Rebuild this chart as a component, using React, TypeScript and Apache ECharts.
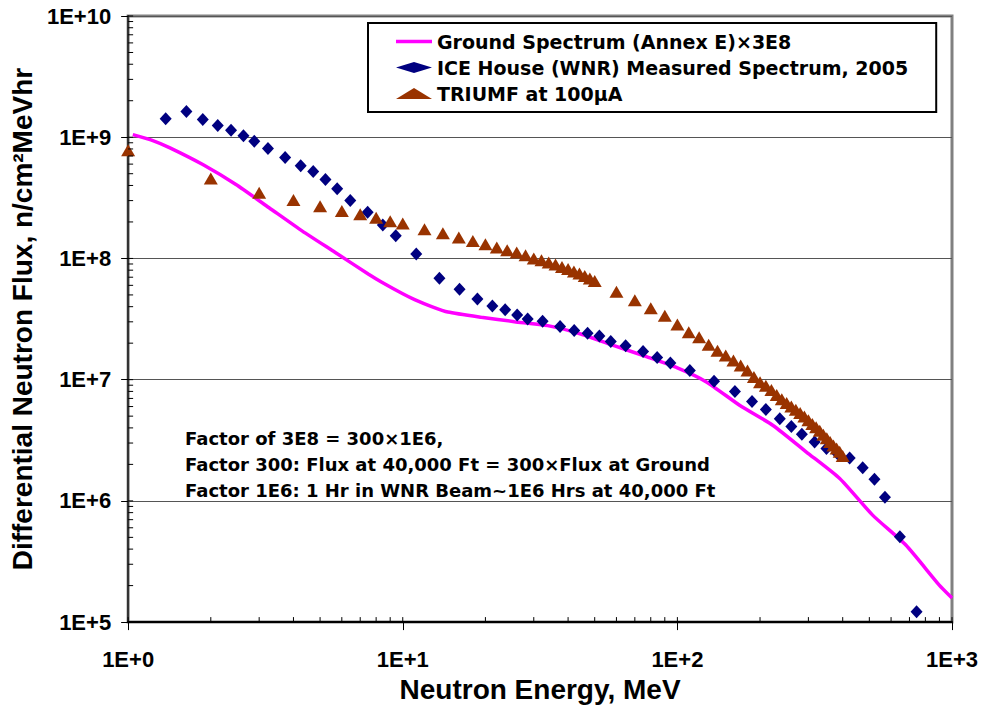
import React, { useEffect, useRef } from "react";
import * as echarts from "echarts";

// ---- Data ----
const groundEnergy = [1.04, 1.23, 1.42, 1.87, 2.47, 3.26, 4.31, 5.68, 7.51, 8.39, 10, 11.05, 12.74, 14.6, 19.3, 25.5, 33.7, 44.5, 58.8, 77.6, 100, 128, 169, 223, 295, 390, 514, 679, 897, 1000];
const groundFlux = [1.05e9, 9.38e8, 8.17e8, 5.95e8, 4.07e8, 2.62e8, 1.68e8, 1.12e8, 7.41e7, 6.37e7, 5.12e7, 4.58e7, 4.01e7, 3.61e7, 3.27e7, 3.01e7, 2.79e7, 2.38e7, 1.91e7, 1.54e7, 1.25e7, 9.54e6, 6.12e6, 4.19e6, 2.53e6, 1.53e6, 7.63e5, 4.32e5, 2.03e5, 1.58e5];

const iceEnergy = [1.37, 1.63, 1.87, 2.12, 2.37, 2.63, 2.88, 3.23, 3.73, 4.25, 4.72, 5.23, 5.77, 6.44, 7.45, 8.46, 9.43, 11.2, 13.6, 16.1, 18.7, 21.2, 23.6, 26.1, 28.5, 32.3, 37.4, 42.1, 47.1, 52.0, 57.2, 64.8, 75.0, 84.4, 94.3, 111, 136, 162, 187, 210, 236, 260, 284, 316, 349, 383, 424, 473, 522, 570, 646, 743];
const iceFlux = [1.42e9, 1.63e9, 1.4e9, 1.25e9, 1.14e9, 1.03e9, 9.25e8, 8.06e8, 6.8e8, 5.81e8, 5.21e8, 4.48e8, 3.76e8, 3.01e8, 2.41e8, 1.89e8, 1.54e8, 1.09e8, 6.87e7, 5.58e7, 4.62e7, 4.06e7, 3.77e7, 3.41e7, 3.16e7, 3.03e7, 2.75e7, 2.54e7, 2.41e7, 2.29e7, 2.06e7, 1.9e7, 1.71e7, 1.52e7, 1.37e7, 1.19e7, 9.72e6, 7.98e6, 6.61e6, 5.68e6, 4.76e6, 4.11e6, 3.54e6, 3.06e6, 2.7e6, 2.45e6, 2.26e6, 1.88e6, 1.51e6, 1.07e6, 5.07e5, 1.22e5];

const triumfEnergy = [1, 2, 3, 4, 5, 6, 7, 8, 9, 10, 12, 14, 16, 18, 20, 22, 24, 26, 28, 30, 32, 34, 36, 38, 40, 42, 44, 46, 48, 50, 60, 70, 80, 90, 100, 110, 120, 130, 140, 150, 160, 170, 180, 190, 200, 210, 220, 230, 240, 250, 260, 270, 280, 290, 300, 310, 320, 330, 340, 350, 360, 370, 380, 390, 400];
const triumfFlux = [7.8e8, 4.57e8, 3.48e8, 3.03e8, 2.7e8, 2.46e8, 2.31e8, 2.17e8, 2.03e8, 1.94e8, 1.74e8, 1.61e8, 1.49e8, 1.39e8, 1.31e8, 1.23e8, 1.17e8, 1.12e8, 1.06e8, 1.0e8, 9.67e7, 9.25e7, 8.91e7, 8.51e7, 8.2e7, 7.8e7, 7.52e7, 7.18e7, 6.84e7, 6.5e7, 5.3e7, 4.53e7, 3.89e7, 3.37e7, 2.85e7, 2.46e7, 2.24e7, 1.94e7, 1.73e7, 1.58e7, 1.44e7, 1.31e7, 1.19e7, 1.05e7, 9.53e6, 8.89e6, 8.2e6, 7.48e6, 6.9e6, 6.43e6, 6.01e6, 5.64e6, 5.3e6, 4.97e6, 4.62e6, 4.31e6, 4.04e6, 3.79e6, 3.52e6, 3.29e6, 3.06e6, 2.87e6, 2.7e6, 2.54e6, 2.34e6];

const seriesNames = [
  "Ground Spectrum (Annex E)×3E8",
  "ICE House (WNR) Measured Spectrum, 2005",
  "TRIUMF at 100µA",
];

const noteLines = [
  "Factor of 3E8 = 300×1E6,",
  "Factor 300: Flux at 40,000 Ft = 300×Flux at Ground",
  "Factor 1E6: 1 Hr in WNR Beam~1E6 Hrs at 40,000 Ft",
];

const xMajor = [1, 10, 100, 1000];
const yMajor = [1e5, 1e6, 1e7, 1e8, 1e9, 1e10];
const minorSteps = [2, 3, 4, 5, 6, 7, 8, 9];

const xTickData: number[][] = [];
xMajor.forEach((d) => xTickData.push([d, 1e5, 5]));
xMajor.slice(0, 3).forEach((d) => minorSteps.forEach((m) => xTickData.push([d * m, 1e5, 5])));
const yTickData: number[][] = [];
yMajor.forEach((d) => yTickData.push([1, d, 5]));
yMajor.slice(0, 5).forEach((d) => minorSteps.forEach((m) => yTickData.push([1, d * m, 5])));

const zip = (a: number[], b: number[]) => a.map((v, i) => [v, b[i]]);

const ARIAL = "'Liberation Sans', Arial, sans-serif";
const DEJAVU = "'DejaVu Sans', sans-serif";

export default function App() {
  const ref = useRef<HTMLDivElement>(null);
  useEffect(() => {
    if (!ref.current) return;
    const chart = echarts.init(ref.current, undefined, { renderer: "svg" });
    const labelFmt = (v: number) => "1E+" + Math.round(Math.log10(v));
    chart.setOption({
      animation: false,
      backgroundColor: "#fff",
      grid: {
        left: 125,
        top: 16,
        right: 29,
        bottom: 84,
        show: true,
        borderColor: "#808080",
        borderWidth: 3,
        backgroundColor: "#fff",
      },
      legend: {
        left: 368,
        top: 23,
        orient: "vertical",
        data: [
          { name: seriesNames[0], icon: "path://M0,0 L36,0 L36,3.5 L0,3.5 Z" },
          { name: seriesNames[1], icon: "diamond" },
          { name: seriesNames[2], icon: "triangle" },
        ],
        itemWidth: 36,
        itemHeight: 11,
        itemGap: 7,
        padding: [9, 28, 9, 28],
        borderColor: "#000",
        borderWidth: 2,
        backgroundColor: "#fff",
        textStyle: { fontFamily: DEJAVU, fontWeight: "bold", fontSize: 19, color: "#000" },
      },
      xAxis: {
        type: "log",
        logBase: 10,
        min: 1,
        max: 1000,
        name: "Neutron Energy, MeV",
        nameLocation: "middle",
        nameGap: 44,
        nameTextStyle: { fontFamily: ARIAL, fontWeight: "bold", fontSize: 28, color: "#000" },
        axisLine: { show: true, lineStyle: { color: "#000", width: 2 } },
        axisTick: { show: true, inside: false, length: 8, lineStyle: { color: "#000", width: 1 } },
        axisLabel: { formatter: labelFmt, margin: 26, fontFamily: ARIAL, fontWeight: "bold", fontSize: 22, color: "#000" },
        splitLine: { show: false },
        minorTick: { show: false },
      },
      yAxis: {
        type: "log",
        logBase: 10,
        min: 1e5,
        max: 1e10,
        splitNumber: 5,
        name: "Differential Neutron Flux, n/cm²MeVhr",
        nameLocation: "middle",
        nameGap: 85,
        nameTextStyle: { fontFamily: ARIAL, fontWeight: "bold", fontSize: 28, color: "#000" },
        axisLine: { show: true, lineStyle: { color: "#333", width: 2 } },
        axisTick: { show: true, inside: false, length: 7, lineStyle: { color: "#000", width: 1 } },
        axisLabel: { formatter: labelFmt, margin: 17, fontFamily: ARIAL, fontWeight: "bold", fontSize: 22, color: "#000" },
        splitLine: { show: true, lineStyle: { color: "#555", width: 1 } },
        minorTick: { show: false },
      },
      graphic: noteLines.map((t, i) => ({
        type: "text",
        x: 185,
        y: 438 + i * 26,
        z: 50,
        style: { text: t, fontFamily: DEJAVU, fontWeight: "bold", fontSize: 18, fill: "#000", verticalAlign: "middle" },
      })),
      series: [
        {
          name: seriesNames[0],
          type: "line",
          data: zip(groundEnergy, groundFlux),
          showSymbol: false,
          symbol: "none",
          smooth: 0.2,
          lineStyle: { color: "#FF00FF", width: 3.5 },
          itemStyle: { color: "#FF00FF" },
          z: 3,
        },
        {
          name: seriesNames[1],
          type: "scatter",
          data: zip(iceEnergy, iceFlux),
          symbol: "diamond",
          symbolSize: [12, 13],
          itemStyle: { color: "#000080", opacity: 1 },
          clip: false,
          z: 4,
        },
        {
          name: seriesNames[2],
          type: "scatter",
          data: zip(triumfEnergy, triumfFlux),
          symbol: "triangle",
          symbolSize: [14, 12],
          itemStyle: { color: "#993300", opacity: 1 },
          clip: false,
          z: 5,
        },
        {
          name: "xticks",
          type: "custom",
          silent: true,
          clip: false,
          z: 10,
          data: xTickData,
          renderItem: (_p: any, api: any) => {
            const pt = api.coord([api.value(0), api.value(1)]);
            const len = api.value(2);
            return {
              type: "line",
              shape: { x1: pt[0], y1: pt[1], x2: pt[0], y2: pt[1] - len },
              style: { stroke: "#000", lineWidth: 1 },
            };
          },
        },
        {
          name: "yticks",
          type: "custom",
          silent: true,
          clip: false,
          z: 10,
          data: yTickData,
          renderItem: (_p: any, api: any) => {
            const pt = api.coord([api.value(0), api.value(1)]);
            const len = api.value(2);
            return {
              type: "line",
              shape: { x1: pt[0], y1: pt[1], x2: pt[0] + len, y2: pt[1] },
              style: { stroke: "#000", lineWidth: 1 },
            };
          },
        },
      ],
    });
    return () => chart.dispose();
  }, []);
  return (
    <div
      ref={ref}
      style={{ position: "fixed", left: 0, top: 0, width: 981, height: 708, background: "#fff" }}
    />
  );
}
